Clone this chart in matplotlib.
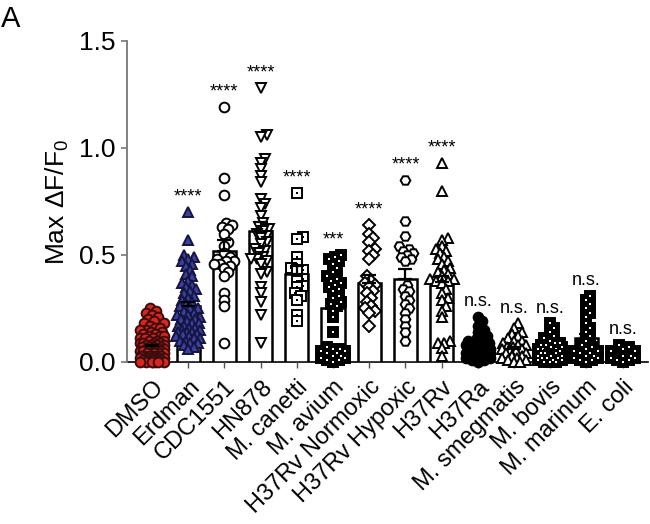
import numpy as np
import matplotlib
matplotlib.use('Agg')
import matplotlib.pyplot as plt

plt.rcParams['font.family'] = ['Liberation Sans', 'DejaVu Sans']

groups = ['DMSO', 'Erdman', 'CDC1551', 'HN878', 'M. canetti', 'M. avium',
          'H37Rv Normoxic', 'H37Rv Hypoxic', 'H37Rv', 'H37Ra', 'M. smegmatis',
          'M. bovis', 'M. marinum', 'E. coli']

means = [0.075, 0.26, 0.52, 0.61, 0.41, 0.25, 0.37, 0.39, 0.375, 0.06, 0.06,
         0.05, 0.11, 0.04]
sems = [0.006, 0.02, 0.05, 0.045, 0.04, 0.03, 0.035, 0.045, 0.025, 0.01, 0.01,
        0.008, 0.02, 0.008]
sig = ['', '****', '****', '****', '****', '***', '****', '****', '****',
       'n.s.', 'n.s.', 'n.s.', 'n.s.', 'n.s.']

dmso = [0.25, 0.24, 0.23, 0.22, 0.21, 0.20, 0.19, 0.18, 0.18, 0.17, 0.16, 0.16,
        0.15, 0.15, 0.14, 0.14, 0.13, 0.13, 0.12, 0.12, 0.12, 0.11, 0.11, 0.11,
        0.10, 0.10, 0.10, 0.09, 0.09, 0.09, 0.09, 0.08, 0.08, 0.08, 0.08, 0.07,
        0.07, 0.07, 0.07, 0.06, 0.06, 0.06, 0.06, 0.06, 0.05, 0.05, 0.05, 0.05,
        0.05, 0.04, 0.04, 0.04, 0.04, 0.04, 0.03, 0.03, 0.03, 0.03, 0.03, 0.03,
        0.02, 0.02, 0.02, 0.02, 0.02, 0.02, 0.01, 0.01, 0.01, 0.01, 0.01, 0.01,
        0.0, 0.0, 0.0, 0.0, 0.0, 0.0]
erdman = [0.70, 0.57, 0.50, 0.49, 0.48, 0.47, 0.46, 0.45, 0.43, 0.41, 0.40,
          0.38, 0.37, 0.36, 0.35, 0.34, 0.33, 0.32, 0.31, 0.30, 0.29, 0.28,
          0.27, 0.26, 0.25, 0.25, 0.24, 0.23, 0.22, 0.22, 0.21, 0.20, 0.20,
          0.19, 0.18, 0.18, 0.17, 0.17, 0.16, 0.16, 0.15, 0.15, 0.14, 0.14,
          0.14, 0.13, 0.13, 0.12, 0.12, 0.11, 0.11, 0.10, 0.10, 0.09, 0.09,
          0.08, 0.07, 0.06]
cdc1551 = [1.19, 0.86, 0.78, 0.65, 0.64, 0.63, 0.62, 0.60, 0.56, 0.54, 0.51,
           0.49, 0.48, 0.47, 0.47, 0.46, 0.46, 0.45, 0.44, 0.42, 0.40, 0.32,
           0.29, 0.26, 0.09]
hn878 = [1.28, 1.06, 1.05, 0.95, 0.93, 0.90, 0.87, 0.84, 0.76, 0.74, 0.72,
         0.68, 0.65, 0.63, 0.62, 0.61, 0.60, 0.59, 0.58, 0.56, 0.55, 0.53,
         0.52, 0.51, 0.49, 0.48, 0.48, 0.47, 0.46, 0.42, 0.41, 0.35, 0.32,
         0.28, 0.22, 0.09]
canetti = [0.79, 0.585, 0.575, 0.49, 0.46, 0.44, 0.43, 0.43, 0.39, 0.38,
           0.355, 0.35, 0.32, 0.31, 0.29, 0.22, 0.19]
avium = [0.50, 0.49, 0.48, 0.47, 0.46, 0.44, 0.42, 0.40, 0.39, 0.38, 0.37,
         0.36, 0.35, 0.34, 0.33, 0.31, 0.30, 0.28, 0.27, 0.26, 0.24, 0.21,
         0.14, 0.07, 0.06, 0.06, 0.05, 0.05, 0.04, 0.04, 0.03, 0.03, 0.02,
         0.02, 0.01, 0.01, 0.0]
normoxic = [0.64, 0.60, 0.58, 0.56, 0.53, 0.52, 0.50, 0.48, 0.40, 0.38, 0.37,
            0.36, 0.35, 0.33, 0.32, 0.30, 0.28, 0.26, 0.25, 0.24, 0.23, 0.17]
hypoxic = [0.85, 0.66, 0.59, 0.54, 0.53, 0.52, 0.51, 0.50, 0.49, 0.48, 0.47,
           0.36, 0.34, 0.33, 0.31, 0.29, 0.27, 0.25, 0.23, 0.20, 0.17, 0.14,
           0.10]
h37rv = [0.93, 0.80, 0.58, 0.57, 0.54, 0.53, 0.52, 0.51, 0.49, 0.48, 0.47,
         0.46, 0.44, 0.43, 0.42, 0.41, 0.40, 0.39, 0.39, 0.38, 0.38, 0.37,
         0.34, 0.32, 0.30, 0.29, 0.26, 0.24, 0.21, 0.10, 0.09, 0.09, 0.065,
         0.03]
h37ra = [0.21, 0.19, 0.17, 0.15, 0.14, 0.12, 0.11, 0.10, 0.10, 0.09, 0.09,
         0.08, 0.08, 0.07, 0.07, 0.07, 0.06, 0.06, 0.06, 0.05, 0.05, 0.05,
         0.04, 0.04, 0.04, 0.03, 0.03, 0.03, 0.02, 0.02, 0.02, 0.01, 0.01,
         0.0]
smegmatis = [0.18, 0.16, 0.14, 0.13, 0.12, 0.11, 0.10, 0.10, 0.09, 0.08, 0.08,
             0.07, 0.07, 0.06, 0.06, 0.05, 0.05, 0.04, 0.04, 0.03, 0.03, 0.02,
             0.02, 0.01, 0.01, 0.0, 0.0]
bovis = [0.18, 0.16, 0.14, 0.12, 0.11, 0.10, 0.09, 0.09, 0.08, 0.08, 0.07,
         0.07, 0.06, 0.06, 0.06, 0.05, 0.05, 0.05, 0.04, 0.04, 0.04, 0.03,
         0.03, 0.03, 0.02, 0.02, 0.02, 0.01, 0.01, 0.01, 0.0, 0.0, 0.0]
marinum = [0.31, 0.29, 0.27, 0.25, 0.23, 0.21, 0.18, 0.16, 0.14, 0.12, 0.10,
           0.08, 0.07, 0.06, 0.05, 0.05, 0.04, 0.04, 0.03, 0.03, 0.02, 0.02,
           0.01, 0.01, 0.0]
ecoli = [0.08, 0.07, 0.06, 0.05, 0.05, 0.04, 0.04, 0.03, 0.03, 0.02, 0.02,
         0.01, 0.01, 0.0]

points = [dmso, erdman, cdc1551, hn878, canetti, avium, normoxic, hypoxic,
          h37rv, h37ra, smegmatis, bovis, marinum, ecoli]

# marker style per group: marker, face, edge, inner dot colour
styles = [('o', '#d8261f', '#3a0c0c', None),
          ('^', '#3b3f9e', '#15153f', None),
          ('o', 'white', 'black', None),
          ('v', 'white', 'black', None),
          ('s', 'white', 'black', 'black'),
          ('s', 'black', 'black', 'white'),
          ('D', 'white', 'black', None),
          ('H', 'white', 'black', None),
          ('^', 'white', 'black', None),
          ('o', 'black', 'black', None),
          ('^', 'white', 'black', None),
          ('s', 'black', 'black', 'white'),
          ('s', 'black', 'black', 'white'),
          ('s', 'black', 'black', 'white')]

XPX = 36.2   # px per category
YPX = 214.0  # px per y unit


def swarm(vals, d=5.5, cap=12.0):
    # simple beeswarm, worked out in pixel units
    vals = np.asarray(vals, dtype=float)
    order = np.argsort(vals)
    cands = [0.0]
    for k in np.arange(1.0, cap + 0.01, 1.0):
        cands += [k, -k]
    placed = []
    offs = np.zeros(len(vals))
    for i in order:
        y = vals[i] * YPX
        best, bestd = 0.0, -1
        for c in cands:
            md = min([np.hypot(c - px, y - py) for px, py in placed], default=1e9)
            if md >= d:
                best = c
                break
            if md > bestd:
                bestd, best = md, c
        offs[i] = best / XPX
        placed.append((best, y))
    return offs


fig = plt.figure(figsize=(6.5, 5.24), dpi=100)
ax = fig.add_axes([0.1954, 0.3092, 0.8016, 0.6126])

x = np.arange(len(groups))
ax.bar(x, means, width=0.64, color='white', edgecolor='black', linewidth=1.8,
       zorder=1)

for i, vals in enumerate(points):
    m, fc, ec, inner = styles[i]
    ms = 6.2 if m == 'D' else 7
    xs = i + swarm(vals)
    ax.plot(xs, vals, linestyle='none', marker=m, markersize=ms,
            markerfacecolor=fc, markeredgecolor=ec, markeredgewidth=1.4,
            clip_on=False, zorder=2)
    if inner:
        ax.plot(xs, vals, linestyle='none', marker='s', markersize=1.6,
                markerfacecolor=inner, markeredgewidth=0, clip_on=False,
                zorder=2.1)

ax.errorbar(x, means, yerr=[np.zeros(len(sems)), sems], fmt='none',
            ecolor='black', elinewidth=1.6, capsize=5, capthick=1.6, zorder=3)

for i, s in enumerate(sig):
    if s:
        ax.text(i, max(points[i]) + 0.05, s, ha='center', va='baseline',
                fontsize=13)

ax.set_xlim(-0.69, 13.70)
ax.set_ylim(0, 1.5)
ax.set_yticks([0, 0.5, 1.0, 1.5])
ax.set_yticklabels(['0.0', '0.5', '1.0', '1.5'], fontsize=19)
ax.set_xticks(x)
ax.set_xticklabels(groups, rotation=45, ha='right', rotation_mode='anchor',
                   fontsize=17)
ax.tick_params(axis='y', length=4, width=1.2, color='#777777', pad=4)
ax.tick_params(axis='x', length=4, width=1.0, color='#555555', pad=6)

ax.spines['top'].set_visible(False)
ax.spines['right'].set_visible(False)
ax.spines['left'].set_color('#777777')
ax.spines['left'].set_linewidth(1.3)
ax.spines['bottom'].set_linestyle((0, (1, 1)))
ax.spines['bottom'].set_linewidth(1.2)
ax.spines['bottom'].set_zorder(0.5)

ax.set_ylabel('Max ΔF/F$_{\\mathregular{0}}$', fontsize=19, labelpad=6)
fig.text(0.002, 0.99, 'A', fontsize=21, va='top', ha='left')

fig.savefig('out.png', dpi=100)
